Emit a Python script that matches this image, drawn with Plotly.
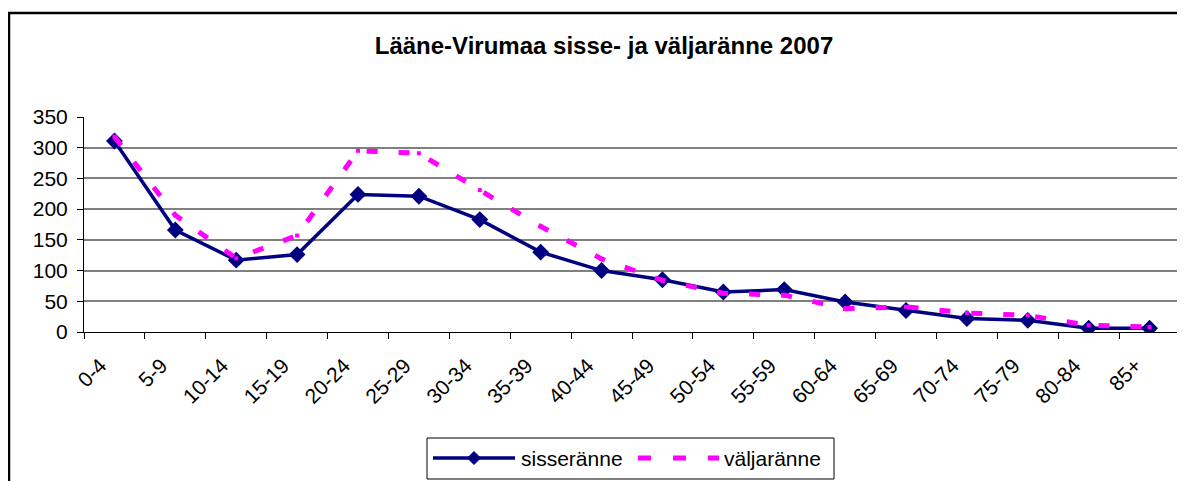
import plotly.graph_objects as go

categories = ["0-4", "5-9", "10-14", "15-19", "20-24", "25-29", "30-34", "35-39", "40-44",
              "45-49", "50-54", "55-59", "60-64", "65-69", "70-74", "75-79", "80-84", "85+"]
sisseranne = [311, 166, 117, 126, 224, 221, 183, 130, 100, 85, 65, 69, 49, 35, 22, 19, 6, 6]
valjaranne = [318, 190, 120, 157, 295, 291, 231, 172, 119, 84, 63, 60, 38, 41, 31, 27, 11, 8]
y_ticks = [0, 50, 100, 150, 200, 250, 300, 350]

title_text = "Lääne-Virumaa sisse- ja väljaränne 2007"
name_in = "sisseränne"
name_out = "väljaränne"

# page offset of the plot div inside the browser (default body margin)
OFF = 8
WIN_W, WIN_H = 1185, 481
W, H = WIN_W - OFF, WIN_H - OFF
# plot area in window pixels
X0, X1, Y0, Y1 = 84, 1180, 117, 332
L, R, T, B = X0 - OFF, WIN_W - X1, Y0 - OFF, WIN_H - Y1
PW = X1 - X0
PH = Y1 - Y0

NAVY = "#000080"
PINK = "#FF00FF"
FONT = "Liberation Sans, Arial, sans-serif"


def px(x):
    return (x - X0) / PW


def py(y):
    return (Y1 - y) / PH


fig = go.Figure()
fig.add_trace(go.Scatter(
    x=categories, y=sisseranne, name=name_in, mode="lines+markers",
    line=dict(color=NAVY, width=3.5),
    marker=dict(symbol="diamond", size=13, color=NAVY),
    showlegend=False,
))
fig.add_trace(go.Scatter(
    x=categories, y=valjaranne, name=name_out, mode="lines+markers",
    line=dict(color=PINK, width=5, dash="11px,21px"),
    marker=dict(symbol="square", size=4, color=PINK),
    showlegend=False,
))

shapes = []
# outer chart frame
shapes.append(dict(type="path", xref="paper", yref="paper",
                   path=f"M {px(9)} {py(500)} L {px(9)} {py(13)} L {px(1200)} {py(13)}",
                   line=dict(color="black", width=2.5)))
# right border of plot area
shapes.append(dict(type="line", xref="paper", yref="paper", x0=1, x1=1, y0=0, y1=1,
                   line=dict(color="#808080", width=1.5)))
# legend box
shapes.append(dict(type="rect", xref="paper", yref="paper",
                   x0=px(427), x1=px(834), y0=py(479), y1=py(438),
                   line=dict(color="black", width=1), fillcolor="white"))
# legend symbols
shapes.append(dict(type="line", xref="paper", yref="paper",
                   x0=px(433), x1=px(515), y0=py(458), y1=py(458),
                   line=dict(color=NAVY, width=3.5)))
cx, cy, d = 474, 458, 6.5
shapes.append(dict(type="path", xref="paper", yref="paper",
                   path=(f"M {px(cx - d)} {py(cy)} L {px(cx)} {py(cy - d)} "
                         f"L {px(cx + d)} {py(cy)} L {px(cx)} {py(cy + d)} Z"),
                   fillcolor=NAVY, line=dict(color=NAVY, width=1)))
shapes.append(dict(type="line", xref="paper", yref="paper",
                   x0=px(638), x1=px(719), y0=py(458), y1=py(458),
                   line=dict(color=PINK, width=5, dash="13px,22px")))

annotations = [
    dict(text=name_in, xref="paper", yref="paper", x=px(519), y=py(458),
         xanchor="left", yanchor="middle", showarrow=False,
         font=dict(family=FONT, size=21, color="black")),
    dict(text=name_out, xref="paper", yref="paper", x=px(722), y=py(458),
         xanchor="left", yanchor="middle", showarrow=False,
         font=dict(family=FONT, size=21, color="black")),
]

fig.update_layout(
    width=W, height=H,
    margin=dict(l=L, r=R, t=T, b=B, pad=0),
    paper_bgcolor="white", plot_bgcolor="white",
    title=dict(text=f"<b>{title_text}</b>", x=(604 - OFF) / W, xanchor="center",
               y=1 - (46 - OFF) / H, yanchor="middle",
               font=dict(family=FONT, size=24, color="black")),
    shapes=shapes,
    annotations=annotations,
    showlegend=False,
)
fig.update_xaxes(
    type="category", categoryorder="array", categoryarray=categories,
    range=[-0.5, len(categories) - 0.5],
    showgrid=False, zeroline=False,
    showline=True, linecolor="black", linewidth=1,
    ticks="outside", tickson="boundaries", ticklen=6, tickcolor="black",
    tickangle=-45, tickfont=dict(family=FONT, size=21, color="black"),
    ticklabelshift=-14, ticklabelstandoff=12,
)
fig.update_yaxes(
    range=[0, 350], tickvals=y_ticks,
    showgrid=True, gridcolor="#808080", gridwidth=1.5,
    zeroline=False,
    showline=True, linecolor="black", linewidth=1,
    ticks="outside", ticklen=6, tickcolor="black",
    tickfont=dict(family=FONT, size=21, color="black"),
    ticklabelstandoff=5,
)

fig.write_html("out.html")
